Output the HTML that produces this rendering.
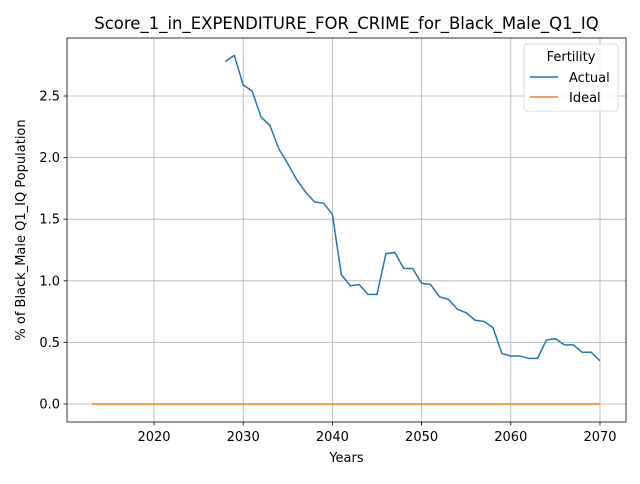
<!DOCTYPE html>
<html><head><meta charset="utf-8"><style>
body{margin:0;background:#fff;font-family:"DejaVu Sans","Liberation Sans",sans-serif}
text{font-family:"DejaVu Sans","Liberation Sans",sans-serif}
</style></head><body>
<svg id="chart" width="640" height="480" xmlns="http://www.w3.org/2000/svg"></svg>
<script>
const actualYears=[2028,2029,2030,2031,2032,2033,2034,2035,2036,2037,2038,2039,2040,2041,2042,2043,2044,2045,2046,2047,2048,2049,2050,2051,2052,2053,2054,2055,2056,2057,2058,2059,2060,2061,2062,2063,2064,2065,2066,2067,2068,2069,2070];
const actualValues=[2.78,2.83,2.59,2.54,2.33,2.26,2.07,1.95,1.82,1.72,1.64,1.63,1.54,1.05,0.96,0.97,0.89,0.89,1.22,1.23,1.10,1.10,0.98,0.97,0.87,0.85,0.77,0.74,0.68,0.67,0.62,0.41,0.39,0.39,0.37,0.37,0.52,0.53,0.48,0.48,0.42,0.42,0.35];
const idealYears=[2013,2070];
const idealValues=[0,0];
const xTicks=[2020,2030,2040,2050,2060,2070];
const yTicks=[0,0.5,1.0,1.5,2.0,2.5];
const yTickLabels=["0.0","0.5","1.0","1.5","2.0","2.5"];

const L=67,R=626,T=38,B=422;
const xs=y=>154+(y-2020)*(600-154)/50;
const ys=v=>404-v*(404-96)/2.5;
const svg=document.getElementById('chart');
const NS='http://www.w3.org/2000/svg';
function mk(tag,attrs,parent){const e=document.createElementNS(NS,tag);for(const k in attrs)e.setAttribute(k,attrs[k]);(parent||svg).appendChild(e);return e;}

xTicks.forEach(t=>{
 const g=mk('line',{x1:xs(t),x2:xs(t),y1:T,y2:B,stroke:'#b0b0b0','stroke-width':0.8});
 
 
 mk('line',{x1:xs(t),x2:xs(t),y1:B,y2:B+3.5,stroke:'#000','stroke-width':0.8});
 const tx=mk('text',{x:xs(t),y:B+19,'text-anchor':'middle','font-size':13});
 tx.textContent=t;
 
 
});
yTicks.forEach((t,i)=>{
 const g=mk('line',{x1:L,x2:R,y1:ys(t),y2:ys(t),stroke:'#b0b0b0','stroke-width':0.8});
 
 
 mk('line',{x1:L-3.5,x2:L,y1:ys(t),y2:ys(t),stroke:'#000','stroke-width':0.8});
 const tx=mk('text',{x:L-7,y:ys(t)+4.5,'text-anchor':'end','font-size':13});
 tx.textContent=yTickLabels[i];
 
 
});

const pa=mk('polyline',{points:actualYears.map((y,i)=>xs(y)+','+ys(actualValues[i])).join(' '),fill:'none',stroke:'#1f77b4','stroke-width':1.5});


const pi=mk('polyline',{points:idealYears.map((y,i)=>xs(y)+','+ys(idealValues[i])).join(' '),fill:'none',stroke:'#ff7f0e','stroke-width':1.5});



const fr=mk('rect',{x:L,y:T,width:R-L,height:B-T,fill:'none',stroke:'#000','stroke-width':0.8});



const title=mk('text',{x:(L+R)/2,y:29,'text-anchor':'middle','font-size':16.5});
title.textContent='Score_1_in_EXPENDITURE_FOR_CRIME_for_Black_Male_Q1_IQ';


const xt=mk('text',{x:(L+R)/2,y:462,'text-anchor':'middle','font-size':13});
xt.textContent='Years';


const yt=mk('text',{x:0,y:0,'text-anchor':'middle','font-size':13,transform:'translate(25,230) rotate(-90)'});
yt.textContent='% of Black_Male Q1_IQ Population';



const lg=mk('g',{});


mk('rect',{x:524,y:44,width:94,height:67,rx:3,fill:'#fff','fill-opacity':0.8,stroke:'#ccc','stroke-width':0.8},lg);
const lt=mk('text',{x:571,y:61,'text-anchor':'middle','font-size':13},lg);lt.textContent='Fertility';
mk('line',{x1:530,x2:558,y1:77,y2:77,stroke:'#1f77b4','stroke-width':1.5},lg);
const l1=mk('text',{x:569,y:82,'font-size':13},lg);l1.textContent='Actual';
mk('line',{x1:530,x2:558,y1:97,y2:97,stroke:'#ff7f0e','stroke-width':1.5},lg);
const l2=mk('text',{x:569,y:102,'font-size':13},lg);l2.textContent='Ideal';
</script>
</body></html>
